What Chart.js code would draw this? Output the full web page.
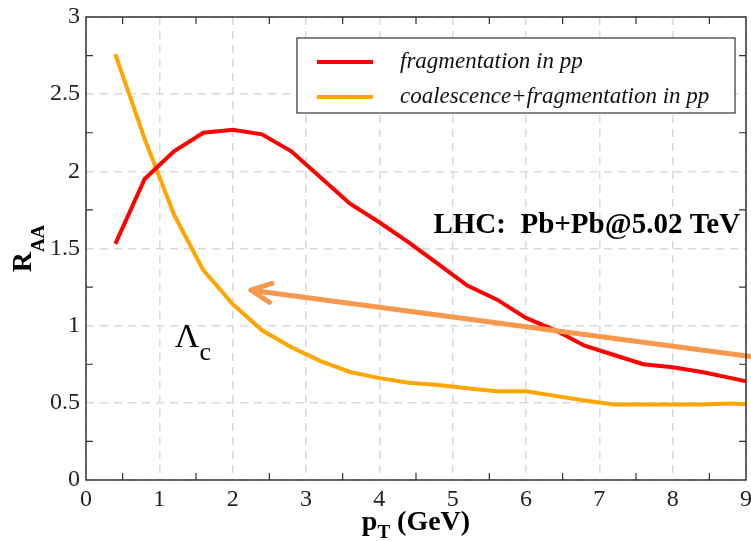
<!DOCTYPE html>
<html>
<head>
<meta charset="utf-8">
<script src="https://cdn.jsdelivr.net/npm/chart.js@4/dist/chart.umd.min.js"></script>
<style>
  html, body { margin: 0; padding: 0; background: #fff; }
  canvas { display: block; }
</style>
</head>
<body>
<canvas id="raaChart" width="751" height="541"></canvas>
<script>
// values
const pT = [0.4, 0.8, 1.2, 1.6, 2.0, 2.4, 2.8, 3.2, 3.6, 4.0, 4.4, 4.8, 5.2, 5.6, 6.0, 6.4, 6.8, 7.2, 7.6, 8.0, 8.4, 8.8, 9.0];
const fragPP = [1.53, 1.95, 2.13, 2.25, 2.27, 2.24, 2.13, 1.96, 1.79, 1.67, 1.54, 1.40, 1.26, 1.17, 1.05, 0.97, 0.87, 0.81, 0.75, 0.73, 0.70, 0.66, 0.64];
const coalFragPP = [2.76, 2.21, 1.72, 1.36, 1.14, 0.97, 0.86, 0.77, 0.70, 0.66, 0.63, 0.615, 0.595, 0.575, 0.575, 0.545, 0.515, 0.49, 0.49, 0.49, 0.49, 0.495, 0.49];
const seriesNames = ["fragmentation in pp", "coalescence+fragmentation in pp"];
const seriesColors = ["#ff0000", "#ffa500"];

const xTickLabels = ["0", "1", "2", "3", "4", "5", "6", "7", "8", "9"];
const yTickLabels = ["0", "0.5", "1", "1.5", "2", "2.5", "3"];

// arrow annotation, in data units (tail -> head)
const arrowTail = [9.06, 0.80];
const arrowHead = [2.25, 1.23];
const arrowColor = "#f7984d";

const serif = "'Liberation Serif', 'DejaVu Serif', serif";

const ctx = document.getElementById("raaChart").getContext("2d");

function toPoints(xs, ys) {
  return xs.map((x, i) => ({ x: x, y: ys[i] }));
}

// frame, minor ticks, titles, legend, annotations
const decorations = {
  id: "decorations",
  afterDatasetsDraw(chart) {
    const c = chart.ctx;
    const { left, right, top, bottom } = chart.chartArea;
    const xs = chart.scales.x;
    const ys = chart.scales.y;

    // arrow
    const tx = xs.getPixelForValue(arrowTail[0]);
    const ty = ys.getPixelForValue(arrowTail[1]);
    const hx = xs.getPixelForValue(arrowHead[0]);
    const hy = ys.getPixelForValue(arrowHead[1]);
    const ang = Math.atan2(ty - hy, tx - hx);
    c.save();
    c.strokeStyle = arrowColor;
    c.lineWidth = 5;
    c.lineCap = "round";
    c.lineJoin = "round";
    c.beginPath();
    c.moveTo(tx, ty);
    c.lineTo(hx, hy);
    c.stroke();
    c.beginPath();
    c.moveTo(hx + 22 * Math.cos(ang - 0.45), hy + 22 * Math.sin(ang - 0.45));
    c.lineTo(hx, hy);
    c.lineTo(hx + 22 * Math.cos(ang + 0.45), hy + 22 * Math.sin(ang + 0.45));
    c.stroke();
    c.restore();

    // frame
    c.save();
    c.strokeStyle = "#333";
    c.lineWidth = 1.5;
    c.strokeRect(left, top, right - left, bottom - top);

    // minor ticks, inward on all sides
    c.lineWidth = 1.2;
    c.beginPath();
    for (let v = 0.5; v < 9; v += 1) {
      const px = xs.getPixelForValue(v);
      c.moveTo(px, bottom); c.lineTo(px, bottom - 7);
      c.moveTo(px, top); c.lineTo(px, top + 7);
    }
    for (let v = 0.25; v < 3; v += 0.5) {
      const py = ys.getPixelForValue(v);
      c.moveTo(left, py); c.lineTo(left + 7, py);
      c.moveTo(right, py); c.lineTo(right - 7, py);
    }
    c.stroke();
    c.restore();

    // legend
    c.save();
    c.fillStyle = "#fff";
    c.fillRect(297, 38, 438, 75);
    c.strokeStyle = "#333";
    c.lineWidth = 1.2;
    c.strokeRect(297, 38, 438, 75);
    chart.data.datasets.forEach((ds, i) => {
      const y = 62 + i * 35;
      c.strokeStyle = ds.borderColor;
      c.lineWidth = 4;
      c.beginPath();
      c.moveTo(317, y);
      c.lineTo(373, y);
      c.stroke();
      c.fillStyle = "#111";
      c.font = "italic 23px " + serif;
      c.textBaseline = "middle";
      c.textAlign = "left";
      c.fillText(ds.label, 400, y);
    });
    c.restore();

    // annotation texts
    c.save();
    c.fillStyle = "#000";
    c.font = "bold 29px " + serif;
    c.textAlign = "right";
    c.textBaseline = "alphabetic";
    c.fillText("LHC:  Pb+Pb@5.02 TeV", xs.getPixelForValue(8.92), ys.getPixelForValue(1.60));
    c.textAlign = "left";
    c.font = "34px " + serif;
    const lx = xs.getPixelForValue(1.21);
    const ly = ys.getPixelForValue(0.86);
    c.fillText("\u039B", lx, ly);
    const lw = c.measureText("\u039B").width;
    c.font = "26px " + serif;
    c.fillText("c", lx + lw, ly + 13);
    c.restore();

    // axis titles with subscripts
    c.save();
    c.fillStyle = "#000";
    c.textBaseline = "alphabetic";
    c.textAlign = "left";
    c.font = "bold 28px " + serif;
    const pw = c.measureText("p").width;
    c.font = "bold 19px " + serif;
    const tw = c.measureText("T").width;
    c.font = "bold 28px " + serif;
    const gw = c.measureText(" (GeV)").width;
    let x0 = (left + right) / 2 - (pw + tw + gw) / 2;
    c.fillText("p", x0, 530);
    c.fillText(" (GeV)", x0 + pw + tw, 530);
    c.font = "bold 19px " + serif;
    c.fillText("T", x0 + pw, 538);

    c.translate(31, (top + bottom) / 2);
    c.rotate(-Math.PI / 2);
    c.font = "bold 28px " + serif;
    const rw = c.measureText("R").width;
    c.font = "bold 19px " + serif;
    const aw = c.measureText("AA").width;
    const y0 = -(rw + aw) / 2;
    c.font = "bold 28px " + serif;
    c.fillText("R", y0, 0);
    c.font = "bold 19px " + serif;
    c.fillText("AA", y0 + rw, 13);
    c.restore();
  },
};

new Chart(ctx, {
  type: "line",
  data: {
    datasets: [
      {
        label: seriesNames[0],
        data: toPoints(pT, fragPP),
        borderColor: seriesColors[0],
        borderWidth: 4,
        pointRadius: 0,
        tension: 0,
      },
      {
        label: seriesNames[1],
        data: toPoints(pT, coalFragPP),
        borderColor: seriesColors[1],
        borderWidth: 4,
        pointRadius: 0,
        tension: 0,
      },
    ],
  },
  options: {
    responsive: false,
    devicePixelRatio: 1,
    animation: false,
    layout: {
      padding: { left: 0, right: 5, top: 17, bottom: 0 },
    },
    plugins: {
      legend: { display: false },
      tooltip: { enabled: false },
    },
    scales: {
      x: {
        type: "linear",
        min: 0,
        max: 9,
        ticks: {
          stepSize: 1,
          padding: 5,
          color: "#222",
          font: { family: serif, size: 24 },
          callback: (v, i) => xTickLabels[i],
        },
        grid: { color: "#dadada", lineWidth: 1.5, drawTicks: false },
        border: { display: false, dash: [8, 6] },
        afterFit(scale) {
          scale.height = 61;
          scale.paddingLeft = 0;
          scale.paddingRight = 0;
        },
      },
      y: {
        type: "linear",
        min: 0,
        max: 3,
        ticks: {
          stepSize: 0.5,
          padding: 6,
          color: "#222",
          font: { family: serif, size: 24 },
          callback: (v, i) => yTickLabels[i],
        },
        grid: { color: "#dadada", lineWidth: 1.5, drawTicks: false },
        border: { display: false, dash: [8, 6] },
        afterFit(scale) {
          scale.width = 86;
          scale.paddingTop = 0;
          scale.paddingBottom = 0;
        },
      },
    },
  },
  plugins: [decorations],
});
</script>
</body>
</html>
